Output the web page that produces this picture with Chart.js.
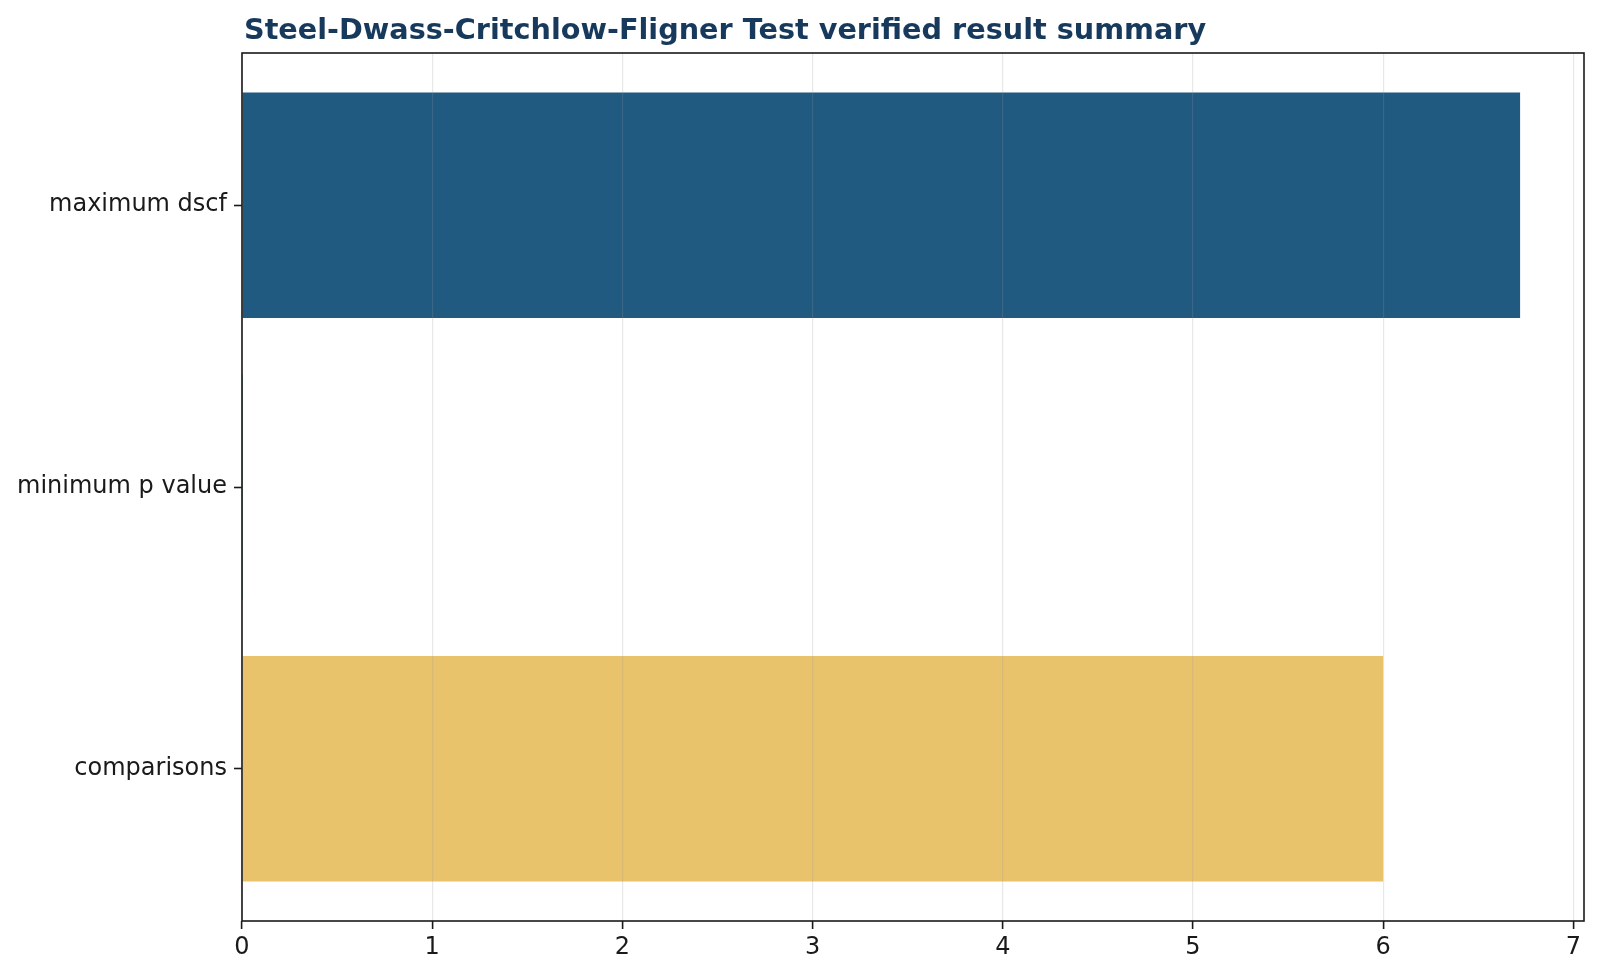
<!DOCTYPE html>
<html>
<head>
<meta charset="utf-8">
<script src="https://cdn.jsdelivr.net/npm/chart.js@4.4.1/dist/chart.umd.min.js"></script>
<style>
  html, body { margin: 0; padding: 0; background: #fff; }
  #wrap { width: 1600px; height: 978px; }
</style>
</head>
<body>
<div id="wrap"><canvas id="summaryChart" width="1600" height="978"></canvas></div>
<script>
// values, top row first
const categories = ["maximum dscf", "minimum p value", "comparisons"];
const values = [6.72, 0.0001, 6];
const barColors = ["#205a80", "#3a8f8a", "#e8c36b"];
const xTicks = [0, 1, 2, 3, 4, 5, 6, 7];
const xMax = 7.056;

const titleText = "Steel-Dwass-Critchlow-Fligner Test verified result summary";
const FONT = "'DejaVu Sans', sans-serif";

// matplotlib-like title + full box around the axes
const framePlugin = {
  id: "frame",
  afterDraw(chart) {
    const { ctx, chartArea } = chart;
    ctx.save();
    ctx.strokeStyle = "#1a1a1a";
    ctx.lineWidth = 1.6;
    ctx.strokeRect(chartArea.left, chartArea.top, chartArea.right - chartArea.left, chartArea.bottom - chartArea.top);
    ctx.fillStyle = "#17395c";
    ctx.font = "bold 28.7px " + FONT;
    ctx.textBaseline = "alphabetic";
    ctx.textAlign = "left";
    ctx.fillText(titleText, chartArea.left + 2, 39);
    ctx.restore();
  }
};

const ctx = document.getElementById("summaryChart").getContext("2d");
new Chart(ctx, {
  type: "bar",
  data: {
    datasets: [{
      data: values.map((v, i) => ({ x: v, y: i })),
      backgroundColor: barColors,
      borderWidth: 0,
      categoryPercentage: 0.8,
      barPercentage: 1.0
    }]
  },
  options: {
    indexAxis: "y",
    responsive: false,
    devicePixelRatio: 1,
    animation: false,
    layout: { padding: { top: 53, right: 16, bottom: 0, left: 0 } },
    plugins: {
      legend: { display: false },
      tooltip: { enabled: false }
    },
    scales: {
      x: {
        type: "linear",
        min: 0,
        max: xMax,
        z: 1,
        afterBuildTicks: s => { s.ticks = xTicks.map(v => ({ value: v })); },
        afterFit: s => { s.height = 57; },
        border: { display: false },
        grid: {
          z: 1,   // grid sits over the bars, as in the reference
          color: "rgba(150,150,150,0.22)",
          lineWidth: 1.2,
          tickColor: "#1a1a1a",
          tickWidth: 1.6,
          tickLength: 8
        },
        ticks: {
          color: "#1a1a1a",
          font: { family: FONT, size: 24 },
          padding: 4,
          maxRotation: 0
        }
      },
      y: {
        type: "linear",
        min: -0.54,
        max: 2.54,
        reverse: true,
        offset: false,
        afterBuildTicks: s => { s.ticks = categories.map((c, i) => ({ value: i })); },
        afterFit: s => { s.width = 242; },
        border: { display: false },
        grid: {
          offset: false,
          drawOnChartArea: false,
          tickColor: "#1a1a1a",
          tickWidth: 1.6,
          tickLength: 8
        },
        ticks: {
          color: "#1a1a1a",
          font: { family: FONT, size: 24 },
          padding: 7,
          callback: v => categories[v]
        }
      }
    }
  },
  plugins: [framePlugin]
});
</script>
</body>
</html>
